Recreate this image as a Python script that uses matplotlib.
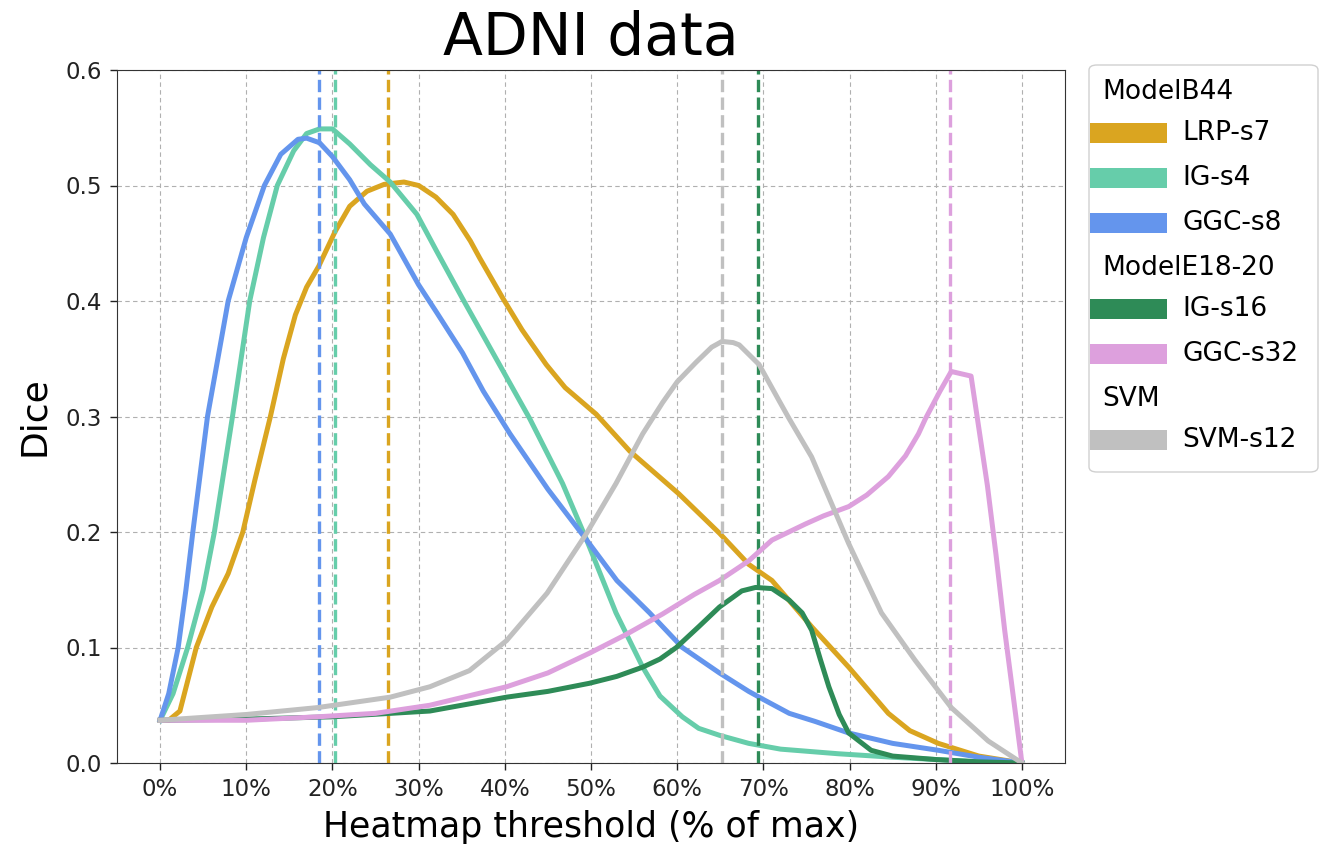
import matplotlib
matplotlib.use("Agg")
import matplotlib.pyplot as plt
from matplotlib.patches import Rectangle, FancyBboxPatch
from matplotlib.ticker import FuncFormatter

# threshold (% of max) / Dice values
lrp_x = [0, 1, 2.3, 4.2, 6, 7.9, 9.6, 11, 12.8, 14.3, 15.7, 17, 18.4, 20.3, 22, 24, 26, 28.3,
         30, 32, 34, 36, 37.1, 39.8, 42, 44.8, 47, 50.6, 54.5, 60.2, 64.9, 68.3, 71, 75.6,
         79.9, 84.5, 87, 90.3, 95, 100]
lrp_y = [0.037, 0.037, 0.045, 0.1, 0.135, 0.164, 0.2, 0.245, 0.3, 0.35, 0.388, 0.412, 0.43,
         0.46, 0.482, 0.495, 0.501, 0.503, 0.5, 0.49, 0.475, 0.452, 0.437, 0.402, 0.375,
         0.345, 0.325, 0.302, 0.27, 0.233, 0.199, 0.172, 0.158, 0.118, 0.083, 0.043, 0.028,
         0.017, 0.006, 0.0]

ig4_x = [0, 1.5, 3.2, 5, 6.3, 8.4, 10.4, 12, 13.6, 15.5, 17, 18.5, 20, 22, 24.4, 26.7, 29.8,
         32.1, 35.1, 39, 42.9, 46.7, 49.5, 52.9, 56, 58, 60.6, 62.5, 64.9, 68.3, 72, 78.7, 85,
         90, 95, 100]
ig4_y = [0.037, 0.06, 0.1, 0.15, 0.2, 0.3, 0.4, 0.455, 0.5, 0.53, 0.545, 0.549, 0.549, 0.536,
         0.518, 0.503, 0.475, 0.443, 0.402, 0.35, 0.298, 0.242, 0.193, 0.13, 0.083, 0.058,
         0.04, 0.03, 0.024, 0.017, 0.012, 0.008, 0.005, 0.003, 0.001, 0.0]

ggc8_x = [0, 1, 2.1, 3, 3.8, 5.5, 7.9, 10, 12.1, 14, 16, 17, 18.5, 20, 22, 23.7, 26.7, 30,
          32.1, 35.1, 37.5, 40.6, 45, 49.5, 53, 56.8, 60.6, 64.9, 68.3, 70, 73, 76, 79.9, 85,
          90.3, 95, 100]
ggc8_y = [0.037, 0.06, 0.1, 0.15, 0.2, 0.3, 0.4, 0.455, 0.5, 0.527, 0.54, 0.541, 0.537,
          0.525, 0.505, 0.484, 0.458, 0.414, 0.39, 0.355, 0.322, 0.285, 0.237, 0.193, 0.158,
          0.13, 0.1, 0.078, 0.062, 0.055, 0.043, 0.036, 0.026, 0.017, 0.011, 0.005, 0.0]

ig16_x = [0, 10, 20, 31.3, 40.2, 45, 49.8, 53, 56, 58, 59.9, 62.5, 64.9, 67.5, 69.1, 71, 73,
          74.5, 75.6, 76.6, 77.6, 78.8, 79.9, 82.5, 85, 90, 95, 100]
ig16_y = [0.037, 0.038, 0.04, 0.045, 0.057, 0.062, 0.069, 0.075, 0.083, 0.09, 0.1, 0.118,
          0.135, 0.149, 0.152, 0.151, 0.141, 0.13, 0.115, 0.09, 0.066, 0.042, 0.026, 0.011,
          0.006, 0.003, 0.001, 0.0]

ggc32_x = [0, 10, 18.3, 25, 31.3, 40.2, 45, 49.8, 54, 58.3, 62, 64.9, 68.3, 71, 74.9, 77,
           79.9, 82, 84.5, 86.5, 88, 88.8, 90.5, 91.8, 94.1, 95, 96, 97, 98, 100]
ggc32_y = [0.037, 0.037, 0.04, 0.043, 0.05, 0.066, 0.078, 0.095, 0.111, 0.129, 0.146, 0.158,
           0.175, 0.193, 0.207, 0.214, 0.222, 0.232, 0.248, 0.266, 0.285, 0.298, 0.322, 0.339,
           0.335, 0.29, 0.24, 0.18, 0.115, 0.0]

svm_x = [0, 10, 18.3, 26.7, 31.3, 35.9, 40.2, 44.9, 49.5, 52.9, 56, 58.3, 60, 62.2, 64, 65.2,
         66.5, 67.2, 69.5, 71.8, 73, 75.6, 79.9, 83.7, 87.6, 91.8, 96.1, 100]
svm_y = [0.037, 0.042, 0.048, 0.057, 0.066, 0.08, 0.106, 0.147, 0.199, 0.242, 0.285, 0.312,
         0.33, 0.347, 0.36, 0.365, 0.364, 0.362, 0.345, 0.314, 0.298, 0.265, 0.19, 0.13,
         0.089, 0.048, 0.019, 0.0]

# best threshold per method (dashed verticals)
best_thr = [26.5, 20.3, 18.4, 69.4, 91.7, 65.2]

labels = ['LRP-s7', 'IG-s4', 'GGC-s8', 'IG-s16', 'GGC-s32', 'SVM-s12']
colors = ['#DAA520', '#66CDAA', '#6495ED', '#2E8B57', '#DDA0DD', '#C0C0C0']
groups = [('ModelB44', [0, 1, 2]), ('ModelE18-20', [3, 4]), ('SVM', [5])]

xs = [lrp_x, ig4_x, ggc8_x, ig16_x, ggc32_x, svm_x]
ys = [lrp_y, ig4_y, ggc8_y, ig16_y, ggc32_y, svm_y]

W, H = 1328, 857
fig = plt.figure(figsize=(W / 100, H / 100), dpi=100)
ax = fig.add_axes([117 / W, 1 - 763 / H, (1065 - 117) / W, (763 - 70) / H])

for x, y, c, t in zip(xs, ys, colors, best_thr):
    ax.plot(x, y, color=c, lw=3.6, solid_joinstyle='round')
    ax.axvline(t, color=c, lw=2.4, ls='--')

ax.set_xlim(-5, 105)
ax.set_ylim(0, 0.6)
ax.set_xticks(range(0, 101, 10))
ax.xaxis.set_major_formatter(FuncFormatter(lambda v, p: f'{v:.0f}%'))
ax.set_yticks([0, 0.1, 0.2, 0.3, 0.4, 0.5, 0.6])
ax.tick_params(labelsize=16.5, length=5, width=1, pad=6, colors='#222222')
ax.grid(True, color='#b0b0b0', ls=(0, (4, 3)), lw=0.8)
ax.set_axisbelow(True)
for s in ax.spines.values():
    s.set_color('#333333')

ax.set_title('ADNI data', fontsize=42, pad=11)
ax.set_xlabel('Heatmap threshold (% of max)', fontsize=25, labelpad=6)
ax.set_ylabel('Dice', fontsize=26, labelpad=10)

# legend with group headers, built by hand in figure pixels
def fx(px):
    return px / W

def fy(py):
    return 1 - py / H

frame = FancyBboxPatch((fx(1089), fy(472)), fx(1318) - fx(1089), fy(65) - fy(472),
                       boxstyle='round,pad=0,rounding_size=0.006', transform=fig.transFigure,
                       facecolor='white', edgecolor='#d0d0d0', lw=1.0)
fig.add_artist(frame)

row_y = 92
for title, idx in groups:
    fig.text(fx(1102), fy(row_y), title, fontsize=19, va='center', ha='left')
    row_y += 41
    for i in idx:
        fig.add_artist(Rectangle((fx(1090), fy(row_y + 10)), fx(1167) - fx(1090),
                                 fy(row_y - 10) - fy(row_y + 10), transform=fig.transFigure,
                                 facecolor=colors[i], edgecolor='none'))
        fig.text(fx(1182), fy(row_y), labels[i], fontsize=19, va='center', ha='left')
        row_y += 45

fig.savefig('out.png', dpi=100)
